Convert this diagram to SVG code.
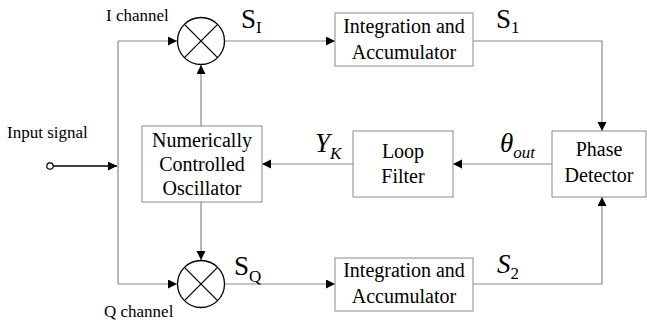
<svg xmlns="http://www.w3.org/2000/svg" width="647" height="320" viewBox="0 0 647 320">
  <defs>
    <marker id="arrow" markerWidth="10" markerHeight="10" refX="9" refY="4.5" orient="auto" markerUnits="userSpaceOnUse">
      <path d="M0,0 L9,4.5 L0,9 Z" fill="#000"/>
    </marker>
  </defs>
  <style>
    .box { fill: #fff; stroke: #8a8a8a; stroke-width: 1; }
    .mix { fill: #fff; stroke: #000; stroke-width: 1.3; }
    .cx { stroke: #000; stroke-width: 1.3; }
    .wire { fill: none; stroke: #8a8a8a; stroke-width: 1.2; }
    .wire-in { fill: none; stroke: #000; stroke-width: 1.3; }
    text { fill: #000; }
    .lbl { font-size: 20px; text-anchor: middle; }
    .side { font-size: 17px; }
    .sym { font-size: 27px; }
    .sub { font-size: 17px; }
    .it { font-style: italic; }
  </style>

  <!-- connectors -->
  <g id="connectors">
    <path class="wire-in" d="M53,166 H117" marker-end="url(#arrow)"/>
    <circle cx="50" cy="166" r="3.2" fill="#fff" stroke="#000" stroke-width="1.2"/>
    <path class="wire" d="M118,41 V284"/>
    <path class="wire" d="M118,41 H177" marker-end="url(#arrow)"/>
    <path class="wire" d="M118,284 H177" marker-end="url(#arrow)"/>
    <path class="wire" d="M201,126 V65" marker-end="url(#arrow)"/>
    <path class="wire" d="M201,202 V260" marker-end="url(#arrow)"/>
    <path class="wire" d="M225,41 H335" marker-end="url(#arrow)"/>
    <path class="wire" d="M225,284 H335" marker-end="url(#arrow)"/>
    <path class="wire" d="M473,41 H602 V131" marker-end="url(#arrow)"/>
    <path class="wire" d="M473,284 H602 V197" marker-end="url(#arrow)"/>
    <path class="wire" d="M552,164 H453" marker-end="url(#arrow)"/>
    <path class="wire" d="M353,164 H262" marker-end="url(#arrow)"/>
  </g>

  <g font-family="'Liberation Serif', 'Times New Roman', 'DejaVu Serif', serif">
  <!-- I mixer -->
  <g id="mixer-i">
    <circle class="mix" cx="201" cy="41" r="23.5"/>
    <path class="cx" d="M184.4,24.4 L217.6,57.6 M217.6,24.4 L184.4,57.6"/>
  </g>

  <!-- Q mixer -->
  <g id="mixer-q">
    <circle class="mix" cx="201" cy="284" r="23.5"/>
    <path class="cx" d="M184.4,267.4 L217.6,300.6 M217.6,267.4 L184.4,300.6"/>
  </g>

  <g id="nco">
    <rect class="box" x="142" y="126" width="120" height="76"/>
    <text class="lbl" x="202" y="147">Numerically</text>
    <text class="lbl" x="202" y="171">Controlled</text>
    <text class="lbl" x="202" y="195">Oscillator</text>
  </g>

  <g id="int-acc-i">
    <rect class="box" x="335" y="13" width="138" height="53"/>
    <text class="lbl" x="404" y="33">Integration and</text>
    <text class="lbl" x="404" y="59">Accumulator</text>
  </g>

  <g id="int-acc-q">
    <rect class="box" x="335" y="258" width="138" height="53"/>
    <text class="lbl" x="404" y="277">Integration and</text>
    <text class="lbl" x="404" y="303">Accumulator</text>
  </g>

  <g id="loop-filter">
    <rect class="box" x="353" y="131" width="100" height="66"/>
    <text class="lbl" x="403" y="158">Loop</text>
    <text class="lbl" x="403" y="183">Filter</text>
  </g>

  <g id="phase-detector">
    <rect class="box" x="552" y="131" width="94" height="66"/>
    <text class="lbl" x="599" y="156">Phase</text>
    <text class="lbl" x="599" y="182">Detector</text>
  </g>

  <!-- labels -->
  <g id="labels">
    <text class="side" x="106" y="21">I channel</text>
    <text class="side" x="104" y="317">Q channel</text>
    <text class="side" x="7" y="138">Input signal</text>
    <text class="sym" x="241" y="28">S<tspan class="sub" dy="5">I</tspan></text>
    <text class="sym" x="496" y="28">S<tspan class="sub" dy="5">1</tspan></text>
    <text class="sym" x="234" y="275">S<tspan class="sub" dy="7">Q</tspan></text>
    <text class="sym it" x="497" y="273">S<tspan class="sub" dy="6" font-style="normal">2</tspan></text>
    <text class="sym it" x="315" y="152">Y<tspan class="sub" dy="7">K</tspan></text>
    <text class="sym it" x="500" y="152">θ<tspan class="sub" dy="6">out</tspan></text>
  </g>
  </g>
</svg>
